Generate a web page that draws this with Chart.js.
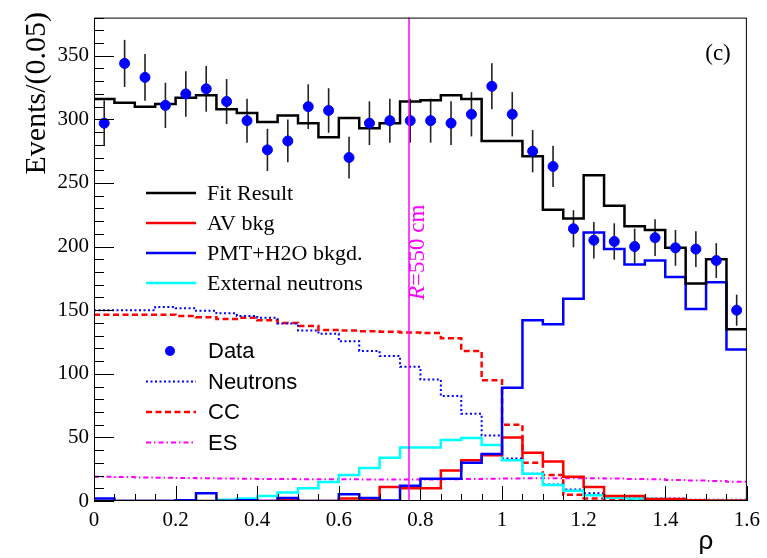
<!DOCTYPE html>
<html><head><meta charset="utf-8">
<script src="https://cdn.jsdelivr.net/npm/chart.js@4"></script>
<style>html,body{margin:0;padding:0;background:#fff}</style>
</head><body>
<canvas id="c" width="767" height="558"></canvas>
<script>
// ---- data (bins of 0.05 in rho) ----
const binEdges = [0,0.05,0.1,0.15,0.2,0.25,0.3,0.35,0.4,0.45,0.5,0.55,0.6,0.65,0.7,0.75,0.8,0.85,0.9,0.95,1.0,1.05,1.1,1.15,1.2,1.25,1.3,1.35,1.4,1.45,1.5,1.55,1.6];
const binCenters = [0.025,0.075,0.125,0.175,0.225,0.275,0.325,0.375,0.425,0.475,0.525,0.575,0.625,0.675,0.725,0.775,0.825,0.875,0.925,0.975,1.025,1.075,1.125,1.175,1.225,1.275,1.325,1.375,1.425,1.475,1.525,1.575];
const dataValues = [297,344,333,311,320,324,314,299,276,283,310,307,270,297,299,299,299,297,304,326,304,275,263,214,205,204,200,207,199,198,189,150];
const dataErrors = [18,18.5,18.3,17.8,17.9,18,17.7,17.3,16.6,16.8,17.6,17.5,16.4,17.2,17.3,17.3,17.3,17.2,17.4,18.1,17.4,16.6,16.2,14.6,14.3,14.3,14.1,14.4,14.1,14.1,13.7,12.2];
const fitResult = [316,313,310,312,317,319,308,305,298,303,297,286,301,293,297,314,315,319,316,283,283,271,229,222,256,232,216,213,199,171,190,135];
const avBkg = [0,0,0,0,0,0,0,0,0,1.5,0,0,2,1,11,10,10,24,32,36,50,38,31,19,11,4,4,1.5,1.5,0.5,0.3,0.3];
const pmtBkg = [2,0,0,0,0.5,6,0,0.5,0,2.3,0,0,5.4,2.3,0.3,12,17.5,17.5,30,37,89,142,139,159,211,198,186,189,176,151,172,119];
const extNeutrons = [0,0,0,0,0,0,1,2,4,6.7,10,15,20.5,26,34,42,42,48,49.5,44,32,21.5,12.5,8,4.5,2.5,2,1.5,1,0.5,0.5,0.5];
const neutrons = [150,150,150,152.5,151.5,149.5,147.5,145.5,144,139.5,134,131.5,125.5,118,114,105.5,95.5,82.5,68.5,51.5,33.5,21.5,13,9,6,2.5,2.5,2,2,1,1,1];
const ccValues = [146.5,146.5,146.5,146.5,145.5,144.5,143,144,142,140,137.5,134.5,134,133.5,133,132.5,132,128,118,95,60,30,20.5,5,2,1,1,0.5,0.3,0.3,0.3,0.3];
const esValues = [19,18.8,18.5,18.3,18.0,17.8,17.6,17.4,17.3,17.2,17.1,17.0,17.0,16.9,16.9,16.9,16.9,17.0,17.2,17.4,17.6,17.8,17.9,17.9,17.8,17.6,17.3,17.0,16.6,16.2,15.7,15.2];
const xTickLabels = [0,0.2,0.4,0.6,0.8,1,1.2,1.4,1.6];
const yTickLabels = [0,50,100,150,200,250,300,350];
const radiusCut = 0.772;

const SERIF = "'Liberation Serif','Times New Roman',serif";
const SANS = "'Liberation Sans',Arial,sans-serif";

function hist(vals){
  const pts = vals.map((v,i)=>({x:binEdges[i], y:v}));
  pts.push({x:binEdges[vals.length], y:vals[vals.length-1]});
  return pts;
}
function histDS(vals, color, width, dash, order){
  return {data:hist(vals), borderColor:color, borderWidth:width, borderDash:dash||[], stepped:'before',
    pointRadius:0, fill:false, tension:0, order:order, borderCapStyle:'butt'};
}

const legendTop = [
  {label:'Fit Result', color:'#000000', dash:[]},
  {label:'AV bkg', color:'#ff0000', dash:[]},
  {label:'PMT+H2O bkgd.', color:'#0000ff', dash:[]},
  {label:'External neutrons', color:'#00ffff', dash:[]}
];
const legendBottom = [
  {label:'Data', color:'#0000ff', marker:true},
  {label:'Neutrons', color:'#0000ff', dash:[2,2.5], w:2},
  {label:'CC', color:'#ff0000', dash:[6,3.5], w:2.5},
  {label:'ES', color:'#ff00ff', dash:[5,3,1.5,3], w:2}
];

const deco = {
  id:'deco',
  beforeDatasetsDraw(chart){
    const {ctx, scales:{x,y}} = chart;
    ctx.save();
    ctx.strokeStyle='#222'; ctx.lineWidth=1.6;
    dataValues.forEach((v,i)=>{
      const px = x.getPixelForValue(binCenters[i]);
      ctx.beginPath();
      ctx.moveTo(px, y.getPixelForValue(v-dataErrors[i]));
      ctx.lineTo(px, y.getPixelForValue(v+dataErrors[i]));
      ctx.stroke();
    });
    ctx.restore();
  },
  afterDatasetsDraw(chart){
    const {ctx, chartArea:a, scales:{x,y}} = chart;
    ctx.save();
    ctx.strokeStyle='#ff00ff'; ctx.lineWidth=1.5;
    const rx = x.getPixelForValue(radiusCut);
    ctx.beginPath(); ctx.moveTo(rx,a.top); ctx.lineTo(rx,a.bottom); ctx.stroke();
    ctx.strokeStyle='#000'; ctx.lineWidth=1;
    ctx.strokeRect(a.left+0.5, a.top+0.5, a.right-a.left-1, a.bottom-a.top-1);
    ctx.beginPath();
    for(let v=0; v<=380; v+=10){
      const py = Math.round(y.getPixelForValue(v))+0.5;
      const len = (v%50===0)?20:10;
      ctx.moveTo(a.left, py); ctx.lineTo(a.left+len, py);
    }
    for(let k=0; k<=32; k++){
      const v = k*0.05;
      const px = Math.round(x.getPixelForValue(v))+0.5;
      const len = (k%4===0)?15:7;
      ctx.moveTo(px, a.bottom); ctx.lineTo(px, a.bottom-len);
    }
    ctx.stroke();
    // R label
    ctx.save();
    ctx.translate(rx+15, 300);
    ctx.rotate(-Math.PI/2);
    ctx.fillStyle='#ff00ff'; ctx.textBaseline='alphabetic'; ctx.textAlign='left';
    ctx.font='italic 23px '+SERIF;
    ctx.fillText('R',0,0);
    const w = ctx.measureText('R').width;
    ctx.font='23px '+SERIF;
    ctx.fillText('=550 cm', w, 0);
    ctx.restore();
    ctx.fillStyle='#000'; ctx.font='23px '+SERIF; ctx.textAlign='center'; ctx.textBaseline='alphabetic';
    ctx.fillText('(c)', 718, 60);
    ctx.font='26px '+SANS; ctx.textAlign='center';
    ctx.fillText('ρ', 706, 549);
    ctx.save();
    ctx.translate(45, 12);
    ctx.rotate(-Math.PI/2);
    ctx.font='30px '+SERIF; ctx.textAlign='right'; ctx.textBaseline='alphabetic';
    ctx.fillText('Events/(0.05)', 0, 0);
    ctx.restore();
    ctx.textAlign='left'; ctx.textBaseline='alphabetic';
    legendTop.forEach((l,i)=>{
      const base = 200 + i*30;
      ctx.strokeStyle=l.color; ctx.lineWidth=2.5; ctx.setLineDash(l.dash);
      ctx.beginPath(); ctx.moveTo(146, base-7); ctx.lineTo(196, base-7); ctx.stroke();
      ctx.setLineDash([]);
      ctx.fillStyle='#000'; ctx.font='22px '+SERIF;
      ctx.fillText(l.label, 207, base);
    });
    legendBottom.forEach((l,i)=>{
      const base = 358 + i*30.5;
      if(l.marker){
        ctx.fillStyle=l.color; ctx.beginPath(); ctx.arc(170, base-7, 5, 0, Math.PI*2); ctx.fill();
      } else {
        ctx.strokeStyle=l.color; ctx.lineWidth=l.w; ctx.setLineDash(l.dash);
        ctx.beginPath(); ctx.moveTo(146, base-7); ctx.lineTo(196, base-7); ctx.stroke();
        ctx.setLineDash([]);
      }
      ctx.fillStyle='#000'; ctx.font='22px '+SANS;
      ctx.fillText(l.label, 208, base);
    });
    ctx.restore();
  }
};

new Chart(document.getElementById('c'), {
  type:'line',
  data:{datasets:[
    {type:'scatter', data:dataValues.map((v,i)=>({x:binCenters[i], y:v})), backgroundColor:'#0000ff', borderColor:'#0000ff',
      pointRadius:5, pointHoverRadius:5, showLine:false, order:0},
    histDS(fitResult,'#000000',2.5,[],1),
    histDS(pmtBkg,'#0000ff',2.5,[],2),
    histDS(avBkg,'#ff0000',2.5,[],3),
    histDS(extNeutrons,'#00ffff',2.5,[],4),
    histDS(neutrons,'#0000ff',2,[2,2.5],5),
    histDS(ccValues,'#ff0000',2.5,[6,3.5],6),
    histDS(esValues,'#ff00ff',2,[5,3,1.5,3],7)
  ]},
  options:{
    responsive:false, animation:false, devicePixelRatio:1,
    layout:{padding:{top:12,right:20,left:0,bottom:0}},
    plugins:{legend:{display:false}, tooltip:{enabled:false}},
    scales:{
      x:{type:'linear', min:0, max:1.6,
        grid:{display:false, drawTicks:false}, border:{display:false},
        afterBuildTicks:s=>{ s.ticks = xTickLabels.map(v=>({value:v})); },
        ticks:{font:{family:SERIF, size:21}, color:'#000', padding:7, maxRotation:0, autoSkip:false,
          callback:v=>String(+(+v).toFixed(2))},
        afterFit:s=>{ s.height = 57; }
      },
      y:{type:'linear', min:0, max:380,
        grid:{display:false, drawTicks:false}, border:{display:false},
        afterBuildTicks:s=>{ s.ticks = yTickLabels.map(v=>({value:v})); },
        ticks:{font:{family:SERIF, size:21}, color:'#000', padding:5, autoSkip:false},
        afterFit:s=>{ s.width = 94; }
      }
    }
  },
  plugins:[deco]
});
</script>
</body></html>
